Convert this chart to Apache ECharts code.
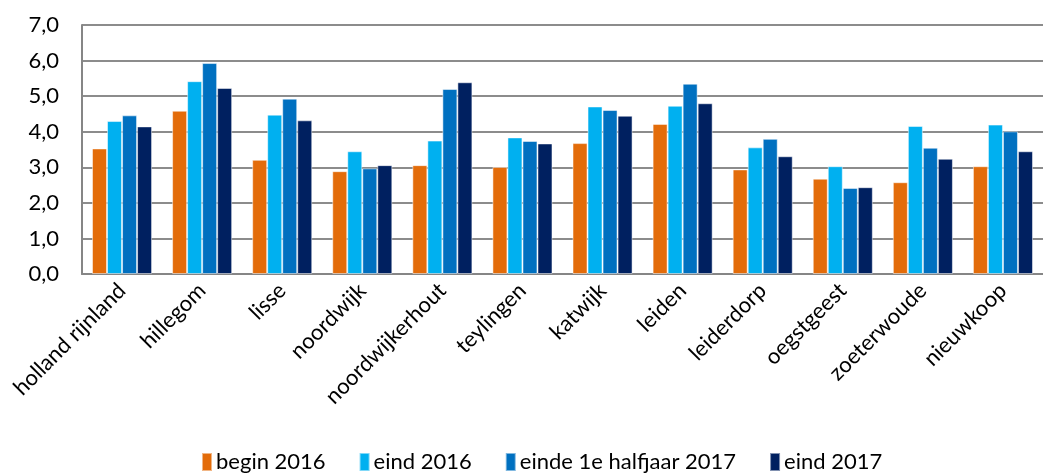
<!DOCTYPE html>
<html>
<head>
<meta charset="utf-8">
<script src="https://cdn.jsdelivr.net/npm/echarts@6/dist/echarts.min.js"></script>
<style>
  html, body { margin: 0; padding: 0; background: #fff; }
  #chart { width: 1043px; height: 476px; }
</style>
</head>
<body>
<div id="chart"></div>
<script>
// Categories and series
const gemeenten = ['holland rijnland', 'hillegom', 'lisse', 'noordwijk', 'noordwijkerhout',
    'teylingen', 'katwijk', 'leiden', 'leiderdorp', 'oegstgeest', 'zoeterwoude', 'nieuwkoop'];
const begin2016 = [3.53, 4.59, 3.21, 2.89, 3.06, 3.01, 3.68, 4.22, 2.94, 2.68, 2.58, 3.03];
const eind2016 = [4.30, 5.42, 4.48, 3.45, 3.75, 3.84, 4.71, 4.73, 3.56, 3.03, 4.16, 4.20];
const halfjaar2017 = [4.46, 5.93, 4.93, 2.97, 5.20, 3.74, 4.61, 5.35, 3.80, 2.42, 3.55, 4.01];
const eind2017 = [4.15, 5.23, 4.32, 3.06, 5.39, 3.67, 4.45, 4.80, 3.31, 2.44, 3.24, 3.45];

const FONT = 'Lato';
const series = [
    { name: 'begin 2016', data: begin2016, color: '#E36C0A' },
    { name: 'eind 2016', data: eind2016, color: '#00B0F0' },
    { name: 'einde 1e halfjaar 2017', data: halfjaar2017, color: '#0070C0' },
    { name: 'eind 2017', data: eind2017, color: '#002060' },
];

const chart = echarts.init(document.getElementById('chart'));
chart.setOption({
    animation: false,
    textStyle: { fontFamily: FONT },
    grid: { left: 82, top: 25, right: 0, bottom: 202, containLabel: false },
    legend: {
        bottom: -2,
        left: 196,
        itemWidth: 10,
        itemHeight: 18,
        itemGap: 33,
        icon: 'rect',
        textStyle: { fontFamily: FONT, fontSize: 22, color: '#000', padding: [0, 0, 0, -1] },
        data: series.map(s => s.name),
    },
    xAxis: {
        type: 'category',
        data: gemeenten,
        axisLine: { lineStyle: { color: '#868686', width: 2 } },
        axisTick: { show: false },
        axisLabel: {
            rotate: 45,
            interval: 0,
            margin: 13,
            fontSize: 22,
            color: '#000',
            fontFamily: FONT,
        },
    },
    yAxis: {
        type: 'value',
        min: 0,
        max: 7,
        interval: 1,
        axisLine: { show: true, lineStyle: { color: '#868686', width: 2 } },
        axisTick: { show: false },
        axisLabel: {
            fontSize: 22,
            color: '#000',
            margin: 23,
            fontFamily: FONT,
            formatter: v => v.toFixed(1).replace('.', ','),
        },
        splitLine: { lineStyle: { color: '#8c8c8c', width: 2 } },
    },
    series: series.map(s => ({
        name: s.name,
        type: 'bar',
        data: s.data,
        barGap: '0%',
        barCategoryGap: '25%',
        itemStyle: { color: s.color, borderColor: 'rgba(255,255,255,0.5)', borderWidth: 1 },
    })),
});
</script>
</body>
</html>
